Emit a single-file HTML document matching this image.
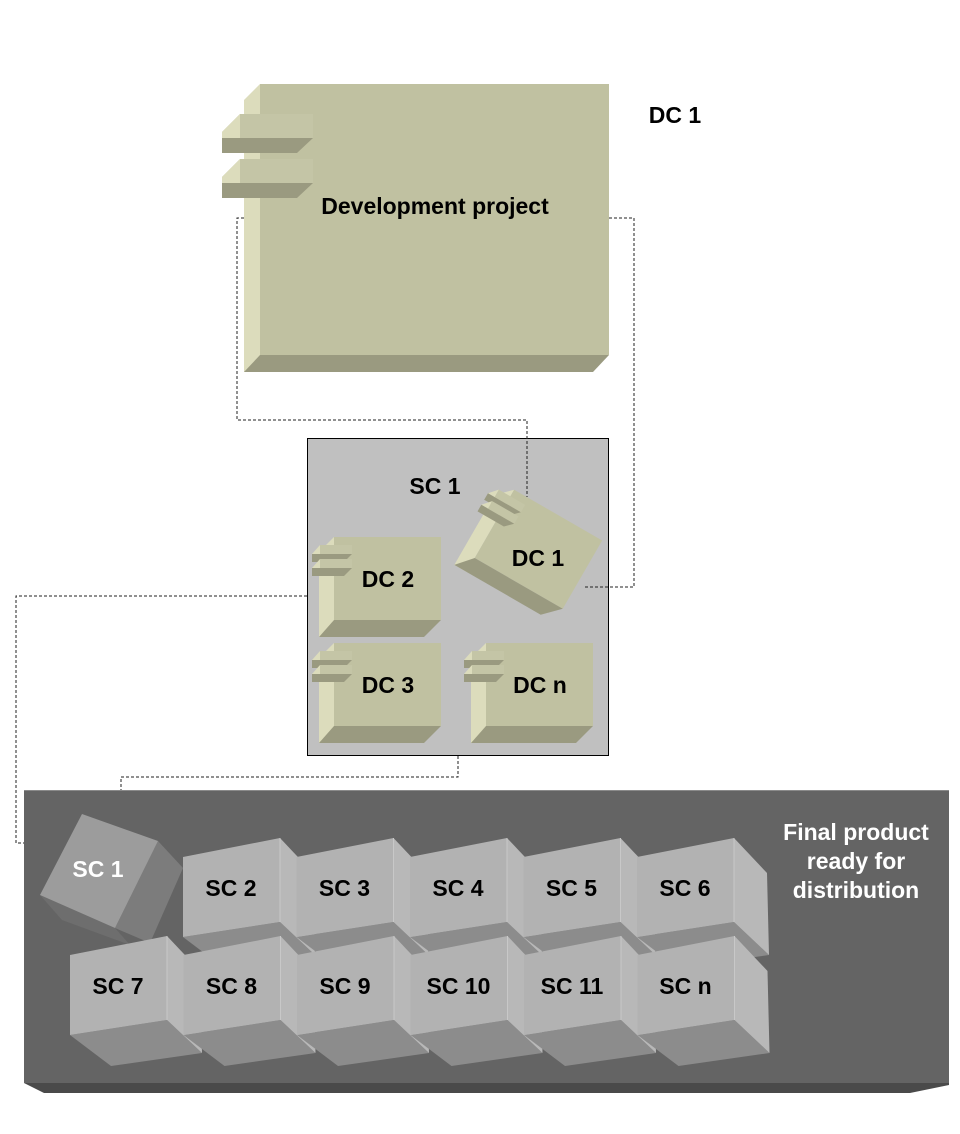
<!DOCTYPE html>
<html><head><meta charset="utf-8"><style>
html,body{margin:0;padding:0;background:#fff;}
svg{display:block;}
text{font-family:"Liberation Sans",Arial,sans-serif;font-weight:bold;}
</style></head><body>
<svg width="960" height="1134" viewBox="0 0 960 1134" xmlns="http://www.w3.org/2000/svg">
<defs>
<g id="tab">
  <polygon points="18,0 91,0 91,24 0,24 0,18" fill="#c4c5a6"/>
  <polygon points="0,18 18,0 18,24 0,24" fill="#dcdcbc"/>
  <polygon points="0,24 91,24 91,24 75,39 0,39" fill="#9a9a80"/>
</g>
<g id="stab">
  <polygon points="8,0 40,0 40,9 8,9" fill="#c4c5a6"/>
  <polygon points="0,9 8,0 8,9" fill="#dcdcbc"/>
  <polygon points="0,9 40,9 32,17 0,17" fill="#9a9a80"/>
</g>
<g id="comp">
  <polygon points="0,15 15,0 15,100 0,100" fill="#dcdcbc"/>
  <rect x="15" y="0" width="107" height="83" fill="#c0c1a1"/>
  <polygon points="0,100 15,83 122,83 105,100" fill="#9a9a80"/>
  <use href="#stab" x="-7" y="8"/>
  <use href="#stab" x="-7" y="22"/>
</g>
</defs>

<polygon points="244,100 260,84 260,372 244,372" fill="#dcdcbc"/>
<rect x="260" y="84" width="349" height="271" fill="#c0c1a1"/>
<polygon points="244,372 260,355 609,355 593,372" fill="#9a9a80"/>
<use href="#tab" x="222" y="114"/>
<use href="#tab" x="222" y="159"/>
<text x="435" y="214" font-size="23" text-anchor="middle" fill="#000">Development project</text>
<text x="675" y="123" font-size="23" text-anchor="middle" fill="#000">DC 1</text>

<rect x="307.5" y="438.5" width="301" height="317" fill="#c0c0c0" stroke="#000" stroke-width="1"/>
<text x="435" y="494" font-size="23" text-anchor="middle">SC 1</text>
<use href="#comp" x="319" y="537"/>
<text x="388" y="587" font-size="23" text-anchor="middle">DC 2</text>
<use href="#comp" x="319" y="643"/>
<text x="388" y="693" font-size="23" text-anchor="middle">DC 3</text>
<use href="#comp" x="471" y="643"/>
<text x="540" y="693" font-size="23" text-anchor="middle">DC n</text>
<g transform="translate(534,556) rotate(30) scale(0.95) translate(-68,-50)">
  <use href="#comp" x="0" y="0"/>
</g>
<text x="538" y="566" font-size="23" text-anchor="middle">DC 1</text>

<g fill="none" stroke="#222" stroke-width="1" stroke-dasharray="3,2">
<polyline points="244,218 237,218 237,420 527,420 527,497"/>
<polyline points="609,218 634,218 634,587 585,587"/>
<polyline points="307,596 16,596 16,843 55,843"/>
<polyline points="458,756 458,777 121,777 121,825"/>
</g>

<rect x="24" y="790" width="925" height="293" fill="#646464"/>
<line x1="24" y1="790.5" x2="949" y2="790.5" stroke="#8a8a8a"/>
<polygon points="24,1083 949,1083 949,1085 910,1093 44,1093" fill="#4a4a4a"/>
<text font-size="23" fill="#fff" text-anchor="middle"><tspan x="856" y="840">Final product</tspan><tspan x="856" y="869">ready for</tspan><tspan x="856" y="898">distribution</tspan></text>

<polygon points="40,895 115,928 130,945 62,920" fill="#6e6e6e"/>
<polygon points="158,841 183,868 150,943 115,928" fill="#7c7c7c"/>
<polygon points="82,814 158,841 115,928 40,895" fill="#9c9c9c"/>
<text x="98" y="877" font-size="23" fill="#fff" text-anchor="middle">SC 1</text>

<g id="cubes"></g>
<script>
(function(){
var ns="http://www.w3.org/2000/svg",g=document.getElementById("cubes");
function cube(x,y,label){
 function p(pts,fill){var e=document.createElementNS(ns,"polygon");e.setAttribute("points",pts);e.setAttribute("fill",fill);g.appendChild(e);}
 p([x,y+99, x+97,y+84, x+132,y+117, x+41,y+130].join(","),"#8c8c8c");
 p([x+97,y, x+130,y+35, x+132,y+117, x+97,y+84].join(","),"#b8b8b8");
 p([x,y+19, x+97,y, x+97,y+84, x,y+99].join(","),"#b2b2b2");
 var l=document.createElementNS(ns,"line");l.setAttribute("x1",x+97);l.setAttribute("y1",y);l.setAttribute("x2",x+97);l.setAttribute("y2",y+84);l.setAttribute("stroke","#c8c8c8");g.appendChild(l);
 var t=document.createElementNS(ns,"text");t.setAttribute("x",x+48);t.setAttribute("y",y+58);t.setAttribute("font-size","23");t.setAttribute("text-anchor","middle");t.textContent=label;g.appendChild(t);
}
var r1=["SC 2","SC 3","SC 4","SC 5","SC 6"],r2=["SC 7","SC 8","SC 9","SC 10","SC 11","SC n"];
for(var i=0;i<5;i++)cube(183+i*113.5,838,r1[i]);
for(var j=0;j<6;j++)cube(70+j*113.5,936,r2[j]);
})();
</script>
</svg>
</body></html>
